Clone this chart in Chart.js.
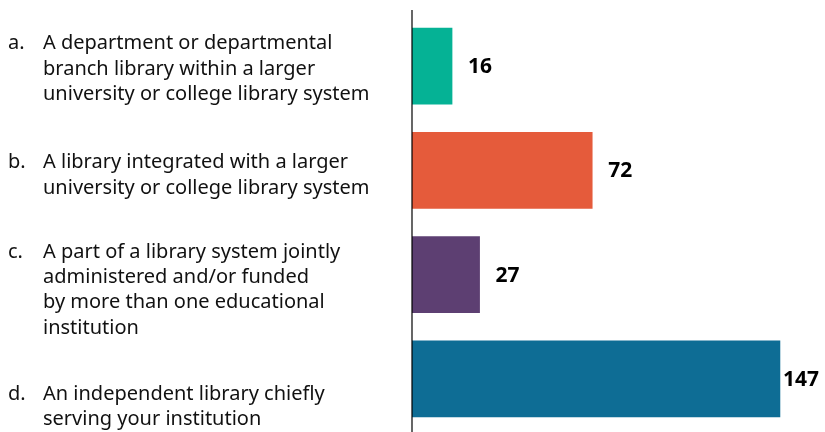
<!DOCTYPE html>
<html>
<head>
<meta charset="utf-8">
<script src="https://cdn.jsdelivr.net/npm/chart.js@4"></script>
<style>
  html, body { margin: 0; padding: 0; background: #fff; }
  #wrap { width: 825px; height: 432px; position: relative; }
</style>
</head>
<body>
<div id="wrap"><canvas id="graph"></canvas></div>
<script>
// данные
const letters = ['a.', 'b.', 'c.', 'd.'];
const labelLines = [
  ['A department or departmental', 'branch library within a larger', 'university or college library system'],
  ['A library integrated with a larger', 'university or college library system'],
  ['A part of a library system jointly', 'administered and/or funded', 'by more than one educational', 'institution'],
  ['An independent library chiefly', 'serving your institution']
];
const counts = [16, 72, 27, 147];
const barColors = ['#05B295', '#E55B3B', '#5D3F72', '#0E6D95'];

// сдвиг первой строки подписи относительно центра столбца
const labelShift = [-17, -2, -17, 21];

var cvs = document.getElementById('graph');
var ctx = cvs.getContext('2d');

const sidePlugin = {
  id: 'side',
  afterDraw(chart) {
    const c = chart.ctx;
    const x = chart.scales.x, y = chart.scales.y;
    const x0 = x.getPixelForValue(0);
    c.save();
    // вертикальная ось
    c.strokeStyle = '#000';
    c.lineWidth = 1.2;
    c.beginPath();
    c.moveTo(x0, 10);
    c.lineTo(x0, chart.height);
    c.stroke();

    // подписи слева
    c.fillStyle = '#111';
    c.font = '20px "Noto Sans"';
    c.textBaseline = 'alphabetic';
    c.textAlign = 'left';
    labelLines.forEach((lines, i) => {
      const yc = y.getPixelForValue(i);
      c.fillText(letters[i], 8, yc + labelShift[i]);
      lines.forEach((t, k) => {
        c.fillText(t, 43, yc + labelShift[i] + k * 25.4);
      });
    });

    // значения
    c.fillStyle = '#000';
    c.font = 'bold 21px "Noto Sans"';
    c.textBaseline = 'middle';
    counts.forEach((v, i) => {
      const w = c.measureText(String(v)).width;
      let px = x.getPixelForValue(v) + 16;
      if (px + w > chart.width - 4) px = x.getPixelForValue(v) + 3;
      c.fillText(String(v), px, y.getPixelForValue(i) + 1);
    });
    c.restore();
  }
};

let chart = new Chart(ctx, {
  type: 'bar',
  data: {
    labels: letters,
    datasets: [{
      data: counts,
      backgroundColor: barColors,
      borderWidth: 0,
      barThickness: 76
    }]
  },
  options: {
    indexAxis: 'y',
    responsive: true,
    maintainAspectRatio: false,
    animation: false,
    layout: { padding: { left: 412, right: 0, top: 14, bottom: 1 } },
    plugins: { legend: { display: false }, tooltip: { enabled: false } },
    scales: {
      x: { display: false, min: 0, max: 165 },
      y: { display: false }
    }
  },
  plugins: [sidePlugin]
});
</script>
</body>
</html>
